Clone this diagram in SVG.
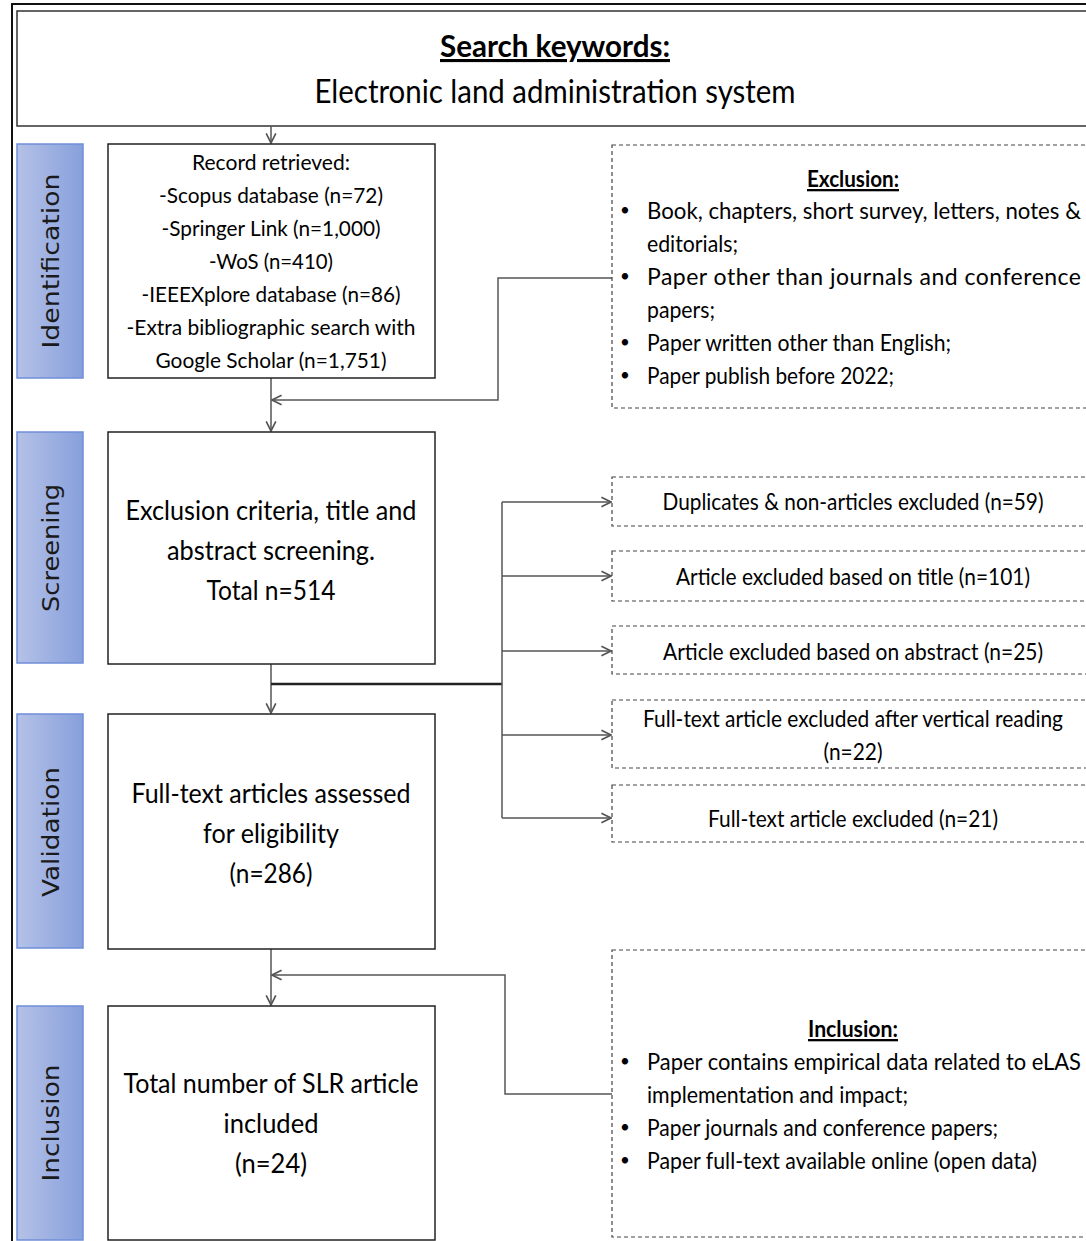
<svg xmlns="http://www.w3.org/2000/svg" width="1086" height="1241" viewBox="0 0 1086 1241">
<style>
.t{font-family:Lato,"Open Sans",sans-serif;fill:#000;}
.c{text-anchor:middle;}
.b{font-size:17px;}
.box{fill:#fff;stroke:#222;stroke-width:1.5;}
.dbox{fill:#fff;stroke:#444;stroke-width:1.2;stroke-dasharray:4 3;}
.side{fill:url(#sg);stroke:#6f8fd8;stroke-width:1.5;}
.st{font-family:"DejaVu Sans",Verdana,sans-serif;font-size:23px;fill:#1a1a1a;text-anchor:middle;}
.ln{fill:none;stroke:#555;stroke-width:1.5;}
.ul{text-decoration:underline;font-weight:bold;}
</style>
<defs>
<linearGradient id="sg" x1="0" y1="0" x2="1" y2="0">
<stop offset="0" stop-color="#b5c2e8"/>
<stop offset="1" stop-color="#879fdb"/>
</linearGradient>
<marker id="ar" markerUnits="userSpaceOnUse" markerWidth="12" markerHeight="12" viewBox="0 0 10 10" refX="9" refY="5" orient="auto">
<path d="M1,1 L9,5 L1,9" fill="none" stroke="#555" stroke-width="1.4"/>
</marker>
</defs>
<rect width="1086" height="1241" fill="#fff"/>
<rect x="12" y="4" width="1077" height="1260" fill="none" stroke="#111" stroke-width="2"/>

<g id="title">
<rect x="17" y="11" width="1072" height="115" fill="#fff" stroke="#333" stroke-width="1.5"/>
<text class="t c ul" x="555" y="57" font-size="31" textLength="230" lengthAdjust="spacingAndGlyphs">Search keywords:</text>
<text class="t c" x="555" y="103" font-size="32" textLength="481" lengthAdjust="spacingAndGlyphs">Electronic land administration system</text>
</g>

<g id="side-identification">
<rect class="side" x="17" y="144" width="66" height="234"/>
<text class="st" transform="translate(59,261) rotate(-90)" textLength="175" lengthAdjust="spacingAndGlyphs">Identification</text>
</g>
<g id="side-screening">
<rect class="side" x="17" y="432" width="66" height="231"/>
<text class="st" transform="translate(59,548) rotate(-90)" textLength="128" lengthAdjust="spacingAndGlyphs">Screening</text>
</g>
<g id="side-validation">
<rect class="side" x="17" y="714" width="66" height="234"/>
<text class="st" transform="translate(59,832) rotate(-90)" textLength="130" lengthAdjust="spacingAndGlyphs">Validation</text>
</g>
<g id="side-inclusion">
<rect class="side" x="17" y="1006" width="66" height="234"/>
<text class="st" transform="translate(59,1123) rotate(-90)" textLength="117" lengthAdjust="spacingAndGlyphs">Inclusion</text>
</g>

<g id="connectors">
<path class="ln" d="M271,126 V143" marker-end="url(#ar)"/>
<path class="ln" d="M271,378 V431" marker-end="url(#ar)"/>
<path class="ln" d="M612,278 H498 V400 H272" marker-end="url(#ar)"/>
<path class="ln" d="M271,664 V713" marker-end="url(#ar)"/>
<path d="M271,684 H502" fill="none" stroke="#222" stroke-width="2.5"/>
<path class="ln" d="M502,502 V818"/>
<path class="ln" d="M502,502 H611" marker-end="url(#ar)"/>
<path class="ln" d="M502,576 H611" marker-end="url(#ar)"/>
<path class="ln" d="M502,651 H611" marker-end="url(#ar)"/>
<path class="ln" d="M502,735 H611" marker-end="url(#ar)"/>
<path class="ln" d="M502,818 H611" marker-end="url(#ar)"/>
<path class="ln" d="M271,949 V1005" marker-end="url(#ar)"/>
<path class="ln" d="M612,1094 H505 V975 H272" marker-end="url(#ar)"/>
</g>

<g id="records">
<rect class="box" x="108" y="144" width="327" height="234"/>
<g class="t c" font-size="22">
<text x="271" y="170" textLength="158" lengthAdjust="spacingAndGlyphs">Record retrieved:</text>
<text x="271" y="203" textLength="224" lengthAdjust="spacingAndGlyphs">-Scopus database (n=72)</text>
<text x="271" y="236" textLength="219" lengthAdjust="spacingAndGlyphs">-Springer Link (n=1,000)</text>
<text x="271" y="269" textLength="124" lengthAdjust="spacingAndGlyphs">-WoS (n=410)</text>
<text x="271" y="302" textLength="259" lengthAdjust="spacingAndGlyphs">-IEEEXplore database (n=86)</text>
<text x="271" y="335" textLength="289" lengthAdjust="spacingAndGlyphs">-Extra bibliographic search with</text>
<text x="271" y="368" textLength="231" lengthAdjust="spacingAndGlyphs">Google Scholar (n=1,751)</text>
</g>
</g>

<g id="screening">
<rect class="box" x="108" y="432" width="327" height="232"/>
<g class="t c" font-size="26">
<text x="271" y="520" textLength="291" lengthAdjust="spacingAndGlyphs">Exclusion criteria, title and</text>
<text x="271" y="560" textLength="208" lengthAdjust="spacingAndGlyphs">abstract screening.</text>
<text x="271" y="600" textLength="129" lengthAdjust="spacingAndGlyphs">Total n=514</text>
</g>
</g>

<g id="validation">
<rect class="box" x="108" y="714" width="327" height="235"/>
<g class="t c" font-size="26">
<text x="271" y="803" textLength="279" lengthAdjust="spacingAndGlyphs">Full-text articles assessed</text>
<text x="271" y="843" textLength="136" lengthAdjust="spacingAndGlyphs">for eligibility</text>
<text x="271" y="883" textLength="83" lengthAdjust="spacingAndGlyphs">(n=286)</text>
</g>
</g>

<g id="included">
<rect class="box" x="108" y="1006" width="327" height="234"/>
<g class="t c" font-size="26">
<text x="271" y="1093" textLength="295" lengthAdjust="spacingAndGlyphs">Total number of SLR article</text>
<text x="271" y="1133" textLength="95" lengthAdjust="spacingAndGlyphs">included</text>
<text x="271" y="1173" textLength="72" lengthAdjust="spacingAndGlyphs">(n=24)</text>
</g>
</g>

<g id="exclusion-criteria">
<rect class="dbox" x="612" y="145" width="477" height="263"/>
<g class="t" font-size="23">
<text class="c ul" x="853" y="187" font-weight="normal" textLength="92" lengthAdjust="spacingAndGlyphs">Exclusion:</text>
<text class="b" x="620" y="216">•</text>
<text x="647" y="219" textLength="434" lengthAdjust="spacingAndGlyphs">Book, chapters, short survey, letters, notes &amp;</text>
<text x="647" y="252" textLength="91" lengthAdjust="spacingAndGlyphs">editorials;</text>
<text class="b" x="620" y="282">•</text>
<text x="647" y="285" textLength="434" lengthAdjust="spacing">Paper other than journals and conference</text>
<text x="647" y="318" textLength="68" lengthAdjust="spacingAndGlyphs">papers;</text>
<text class="b" x="620" y="348">•</text>
<text x="647" y="351" textLength="304" lengthAdjust="spacingAndGlyphs">Paper written other than English;</text>
<text class="b" x="620" y="381">•</text>
<text x="647" y="384" textLength="247" lengthAdjust="spacingAndGlyphs">Paper publish before 2022;</text>
</g>
</g>

<g id="excl-duplicates">
<rect class="dbox" x="612" y="477" width="477" height="49"/>
<text class="t c" font-size="23" x="853" y="510" textLength="381" lengthAdjust="spacingAndGlyphs">Duplicates &amp; non-articles excluded (n=59)</text>
</g>
<g id="excl-title">
<rect class="dbox" x="612" y="551" width="477" height="50"/>
<text class="t c" font-size="23" x="853" y="585" textLength="354" lengthAdjust="spacingAndGlyphs">Article excluded based on title (n=101)</text>
</g>
<g id="excl-abstract">
<rect class="dbox" x="612" y="626" width="477" height="48"/>
<text class="t c" font-size="23" x="853" y="660" textLength="380" lengthAdjust="spacingAndGlyphs">Article excluded based on abstract (n=25)</text>
</g>
<g id="excl-vertical">
<rect class="dbox" x="612" y="700" width="477" height="68"/>
<text class="t c" font-size="23" x="853" y="727" textLength="420" lengthAdjust="spacingAndGlyphs">Full-text article excluded after vertical reading</text>
<text class="t c" font-size="23" x="853" y="760" textLength="59" lengthAdjust="spacingAndGlyphs">(n=22)</text>
</g>
<g id="excl-fulltext">
<rect class="dbox" x="612" y="785" width="477" height="57"/>
<text class="t c" font-size="23" x="853" y="827" textLength="290" lengthAdjust="spacingAndGlyphs">Full-text article excluded (n=21)</text>
</g>

<g id="inclusion-criteria">
<rect class="dbox" x="612" y="950" width="477" height="287"/>
<g class="t" font-size="23">
<text class="c ul" x="853" y="1037" font-weight="normal" textLength="90" lengthAdjust="spacingAndGlyphs">Inclusion:</text>
<text class="b" x="620" y="1067">•</text>
<text x="647" y="1070" textLength="434" lengthAdjust="spacingAndGlyphs">Paper contains empirical data related to eLAS</text>
<text x="647" y="1103" textLength="261" lengthAdjust="spacingAndGlyphs">implementation and impact;</text>
<text class="b" x="620" y="1133">•</text>
<text x="647" y="1136" textLength="351" lengthAdjust="spacingAndGlyphs">Paper journals and conference papers;</text>
<text class="b" x="620" y="1166">•</text>
<text x="647" y="1169" textLength="390" lengthAdjust="spacingAndGlyphs">Paper full-text available online (open data)</text>
</g>
</g>
</svg>
